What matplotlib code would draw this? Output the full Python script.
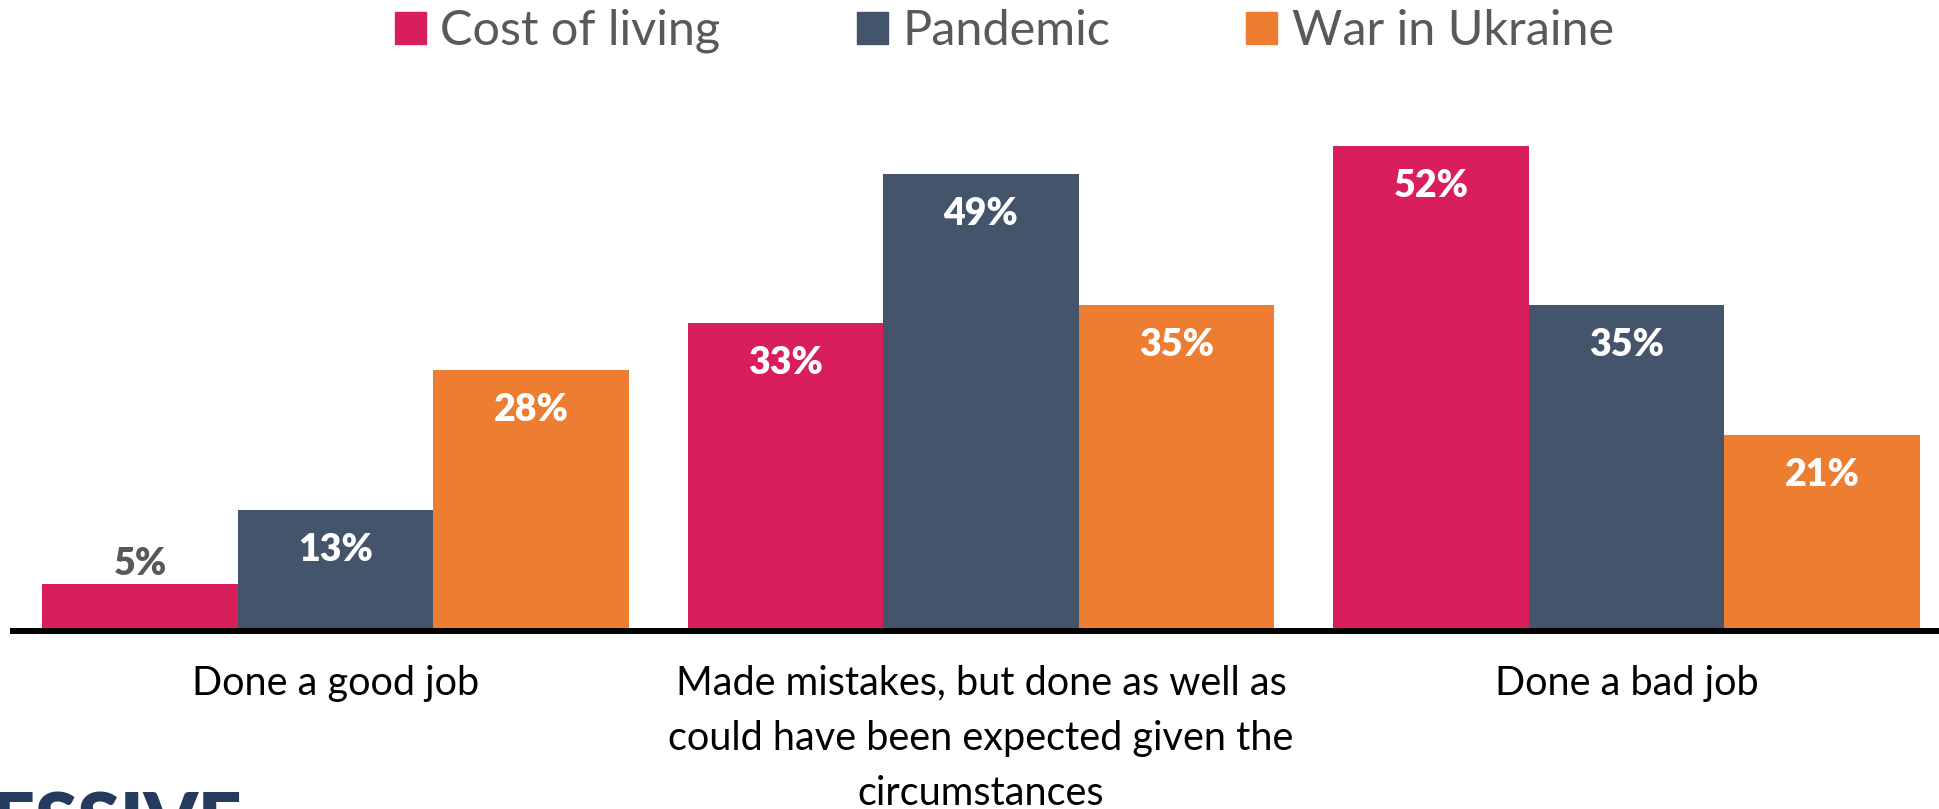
import matplotlib.pyplot as plt
import numpy as np

# data
categories = ["Done a good job",
              "Made mistakes, but done as well as\ncould have been expected given the\ncircumstances",
              "Done a bad job"]
series = ["Cost of living", "Pandemic", "War in Ukraine"]
cost_of_living = [5, 33, 52]
pandemic = [13, 49, 35]
war_in_ukraine = [28, 35, 21]

colors = ["#D81F5B", "#44546A", "#ED7D31"]
grey = "#595959"
plt.rcParams['font.family'] = ['Lato', 'DejaVu Sans']

fig = plt.figure(figsize=(19.39, 8.09), dpi=100)
ax = fig.add_axes([13 / 1939, 1 - 631 / 809, 1936 / 1939, 522 / 809])

x = np.arange(len(categories))
w = 0.303
values = [cost_of_living, pandemic, war_in_ukraine]

for i, (name, vals) in enumerate(zip(series, values)):
    pos = x + (i - 1) * w
    ax.bar(pos, vals, width=w, color=colors[i], label=name)
    for p, v in zip(pos, vals):
        if v < 8:
            # small bar: label sits above it
            ax.text(p, v + 0.4, f"{v}%", ha="center", va="bottom",
                    fontsize=27, fontweight="heavy", color=grey)
        else:
            ax.text(p, v - 4.3, f"{v}%", ha="center", va="center",
                    fontsize=27, fontweight="heavy", color="white")

ax.set_xlim(-0.5, 2.5)
ax.set_ylim(0, 56)
ax.set_yticks([])
ax.set_xticks([])
for s in ["top", "right", "left"]:
    ax.spines[s].set_visible(False)
ax.spines["bottom"].set_linewidth(4.3)
ax.spines["bottom"].set_color("black")

for xi, lab in zip(x, categories):
    ax.text(xi, -3.6, lab, ha="center", va="top", fontsize=28.5,
            color="black", linespacing=1.6)

# legend
handles = [plt.Rectangle((0, 0), 1, 1, color=c) for c in colors]
fig.legend(handles, series, loc="center", bbox_to_anchor=(0.518, 1 - 31 / 809),
           ncol=3, frameon=False, fontsize=35, handlelength=0.64, handleheight=0.64,
           handletextpad=0.3, columnspacing=2.8, labelcolor=grey)

# clipped logo fragment at bottom left
fig.text(242 / 1939, 1 - 791 / 809, "PROGRESSIVE", ha="right", va="top",
         fontsize=55, fontweight="heavy", color="#243A5E")

fig.savefig("out.png", dpi=100)
